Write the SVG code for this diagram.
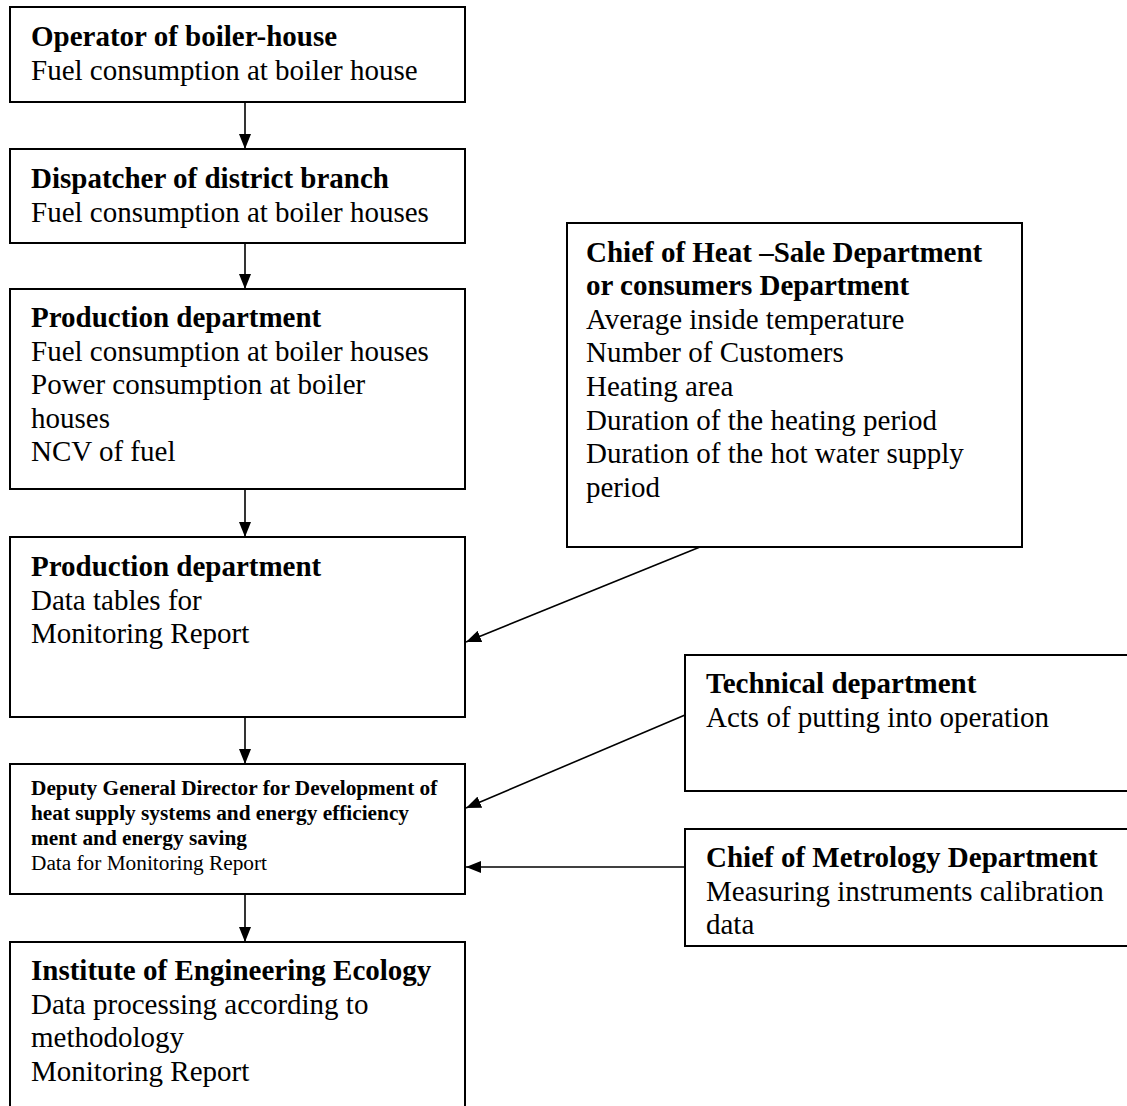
<svg xmlns="http://www.w3.org/2000/svg" width="1127" height="1106" viewBox="0 0 1127 1106">
<style>
.box{fill:#fff;stroke:#000;stroke-width:2}
.t{font-family:"Liberation Serif","Times New Roman",serif;font-size:29px;fill:#000}
.b{font-weight:bold}
.s{font-size:21.3px}
.c{stroke:#000;stroke-width:1.6;fill:none}
</style>
<defs>
<marker id="ah" markerUnits="userSpaceOnUse" markerWidth="16" markerHeight="12" refX="15" refY="6" orient="auto">
<path d="M0,0 L15,6 L0,12 Z" fill="#000"/>
</marker>
</defs>
<rect width="1127" height="1106" fill="#fff"/>
<g id="connectors">
<line class="c" x1="245" y1="102" x2="245" y2="149" marker-end="url(#ah)"/>
<line class="c" x1="245" y1="243" x2="245" y2="289" marker-end="url(#ah)"/>
<line class="c" x1="245" y1="489" x2="245" y2="537" marker-end="url(#ah)"/>
<line class="c" x1="245" y1="717" x2="245" y2="764" marker-end="url(#ah)"/>
<line class="c" x1="245" y1="894" x2="245" y2="942" marker-end="url(#ah)"/>
<line class="c" x1="700" y1="547" x2="466" y2="642" marker-end="url(#ah)"/>
<line class="c" x1="685" y1="715" x2="466" y2="808" marker-end="url(#ah)"/>
<line class="c" x1="685" y1="867" x2="466" y2="867" marker-end="url(#ah)"/>
</g>
<g id="n1">
<rect class="box" x="10" y="7" width="455" height="95"/>
<text class="t b" x="31" y="46">Operator of boiler-house</text>
<text class="t" x="31" y="80">Fuel consumption at boiler house</text>
</g>
<g id="n2">
<rect class="box" x="10" y="149" width="455" height="94"/>
<text class="t b" x="31" y="188">Dispatcher of district branch</text>
<text class="t" x="31" y="222">Fuel consumption at boiler houses</text>
</g>
<g id="n3">
<rect class="box" x="10" y="289" width="455" height="200"/>
<text class="t b" x="31" y="327">Production department</text>
<text class="t" x="31" y="361">Fuel consumption at boiler houses</text>
<text class="t" x="31" y="394">Power consumption at boiler</text>
<text class="t" x="31" y="428">houses</text>
<text class="t" x="31" y="461">NCV of fuel</text>
</g>
<g id="n4">
<rect class="box" x="10" y="537" width="455" height="180"/>
<text class="t b" x="31" y="576">Production department</text>
<text class="t" x="31" y="610">Data tables for</text>
<text class="t" x="31" y="643">Monitoring Report</text>
</g>
<g id="n5">
<rect class="box" x="10" y="764" width="455" height="130"/>
<text class="t b s" x="31" y="795">Deputy General Director for Development of</text>
<text class="t b s" x="31" y="820">heat supply systems and energy efficiency</text>
<text class="t b s" x="31" y="845">ment and energy saving</text>
<text class="t s" x="31" y="870">Data for Monitoring Report</text>
</g>
<g id="n6">
<rect class="box" x="10" y="942" width="455" height="180"/>
<text class="t b" x="31" y="980">Institute of Engineering Ecology</text>
<text class="t" x="31" y="1014">Data processing according to</text>
<text class="t" x="31" y="1047">methodology</text>
<text class="t" x="31" y="1081">Monitoring Report</text>
</g>
<g id="n7">
<rect class="box" x="567" y="223" width="455" height="324"/>
<text class="t b" x="586" y="262">Chief of Heat –Sale Department</text>
<text class="t b" x="586" y="295">or consumers Department</text>
<text class="t" x="586" y="329">Average inside temperature</text>
<text class="t" x="586" y="362">Number of Customers</text>
<text class="t" x="586" y="396">Heating area</text>
<text class="t" x="586" y="430">Duration of the heating period</text>
<text class="t" x="586" y="463">Duration of the hot water supply</text>
<text class="t" x="586" y="497">period</text>
</g>
<g id="n8">
<rect class="box" x="685" y="655" width="460" height="136"/>
<text class="t b" x="706" y="693">Technical department</text>
<text class="t" x="706" y="727">Acts of putting into operation</text>
</g>
<g id="n9">
<rect class="box" x="685" y="829" width="460" height="117"/>
<text class="t b" x="706" y="867">Chief of Metrology Department</text>
<text class="t" x="706" y="901">Measuring instruments calibration</text>
<text class="t" x="706" y="934">data</text>
</g>
</svg>
